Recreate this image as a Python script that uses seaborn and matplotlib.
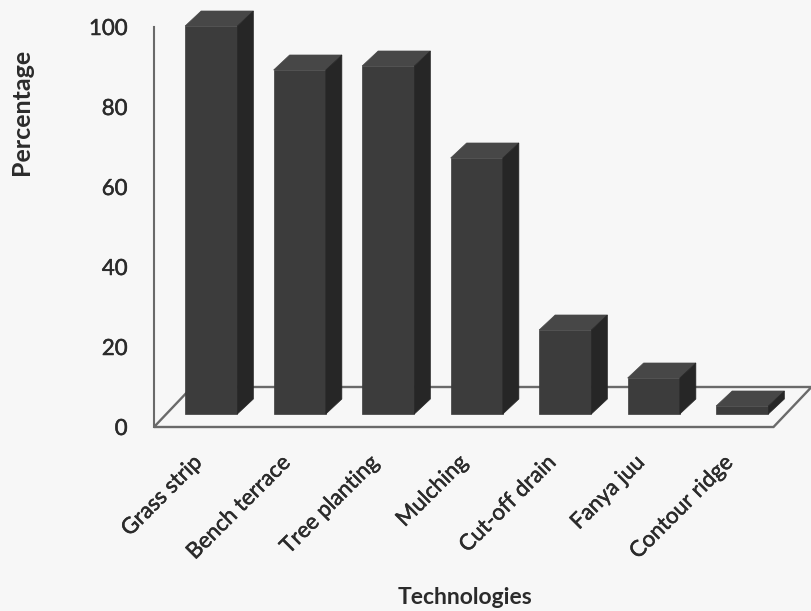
import matplotlib
matplotlib.use("Agg")
import matplotlib.pyplot as plt
import matplotlib.patheffects as pe
import pandas as pd
import seaborn as sns
from matplotlib.patches import Polygon
from matplotlib.transforms import ScaledTranslation

# Adoption of soil and water conservation technologies (%)
technologies = ["Grass strip", "Bench terrace", "Tree planting", "Mulching",
                "Cut-off drain", "Fanya juu", "Contour ridge"]
percentage = [97, 86, 87, 64, 21, 9, 2]
y_ticks = [0, 20, 40, 60, 80, 100]

sns.set_theme(style="white")
plt.rcParams["font.family"] = ["Lato", "DejaVu Sans"]

W, H, DPI = 812, 611, 100
PAPER = "#f7f7f7"
TEXT = "#2b2b2b"
FRONT, TOP, SIDE = "#3c3c3c", "#474747", "#262626"
EDGE = "#6a6a6a"
thick = [pe.withStroke(linewidth=0.35, foreground=TEXT)]

fig = plt.figure(figsize=(W / DPI, H / DPI), dpi=DPI, facecolor=PAPER)
# plotting box (front plane of the 3-D frame), in pixels
left, right, y0_px, y100_px = 154, 773.5, 427, 27
ax = fig.add_axes([left / W, (H - y0_px) / H, (right - left) / W, (y0_px - y100_px) / H])
ax.set_facecolor("none")

df = pd.DataFrame({"Technology": technologies, "Percentage": percentage})
sns.barplot(data=df, x="Technology", y="Percentage", color=FRONT, saturation=1,
            width=0.59, ax=ax, zorder=3, edgecolor=FRONT, linewidth=0.5)
ax.set_xlim(-0.5, len(technologies) - 0.5)
ax.set_ylim(0, 100)

px_x = (right - left) / len(technologies)   # pixels per category
px_y = (y0_px - y100_px) / 100.0             # pixels per percent

# floor of the 3-D frame
depth_dx, depth_dy = 38 / px_x, 40 / px_y
x_lo, x_hi = -0.5, len(technologies) - 0.5
floor = Polygon([(x_lo, 0), (x_hi, 0), (x_hi + depth_dx, depth_dy), (x_lo + depth_dx, depth_dy)],
                closed=True, facecolor="none", edgecolor=EDGE, linewidth=1.7,
                zorder=1, clip_on=False, transform=ax.transData)
ax.add_patch(floor)

# bars stand part-way into the floor; give each one a top and a side face
shift = ax.transData + ScaledTranslation(13 / DPI, 13 / DPI, fig.dpi_scale_trans)
bdx, bdy = 16 / px_x, 15 / px_y
for bar in list(ax.patches):
    if bar is floor:
        continue
    bar.set_transform(shift)
    bar.set_clip_on(False)
    x0, w, h = bar.get_x(), bar.get_width(), bar.get_height()
    top = Polygon([(x0, h), (x0 + w, h), (x0 + w + bdx, h + bdy), (x0 + bdx, h + bdy)],
                  closed=True, facecolor=TOP, edgecolor=TOP, linewidth=0.5,
                  transform=shift, zorder=3, clip_on=False)
    side = Polygon([(x0 + w, 0), (x0 + w + bdx, bdy), (x0 + w + bdx, h + bdy), (x0 + w, h)],
                   closed=True, facecolor=SIDE, edgecolor=SIDE, linewidth=0.5,
                   transform=shift, zorder=3, clip_on=False)
    ax.add_patch(top)
    ax.add_patch(side)

for s in ["top", "right", "bottom"]:
    ax.spines[s].set_visible(False)
ax.spines["left"].set_color(EDGE)
ax.spines["left"].set_linewidth(1.5)

ax.set_yticks(y_ticks)
ax.set_yticklabels([str(v) for v in y_ticks], fontsize=16, color=TEXT)
ax.tick_params(axis="y", length=0, pad=19)
for lab in ax.get_yticklabels():
    lab.set_path_effects(thick)

ax.set_xticks(range(len(technologies)))
ax.set_xticklabels(technologies, rotation=45, ha="right", va="center",
                   rotation_mode="anchor", fontsize=16, color=TEXT)
ax.tick_params(axis="x", length=0, pad=23)
for lab in ax.get_xticklabels():
    lab.set_transform(lab.get_transform() + ScaledTranslation(1 / DPI, 0, fig.dpi_scale_trans))
    lab.set_path_effects(thick)

ax.set_xlabel("Technologies", fontsize=16.5, fontweight="bold", color=TEXT)
ax.set_ylabel("Percentage", fontsize=18, fontweight="bold", color=TEXT)
ax.xaxis.set_label_coords((464.5 - left) / (right - left), (y0_px - 598) / (y0_px - y100_px))
ax.xaxis.label.set_va("center")
ax.yaxis.set_label_coords((22 - left) / (right - left), (y0_px - 112) / (y0_px - y100_px))
ax.yaxis.label.set_va("center")

fig.savefig("out.png", dpi=DPI, facecolor=PAPER)
